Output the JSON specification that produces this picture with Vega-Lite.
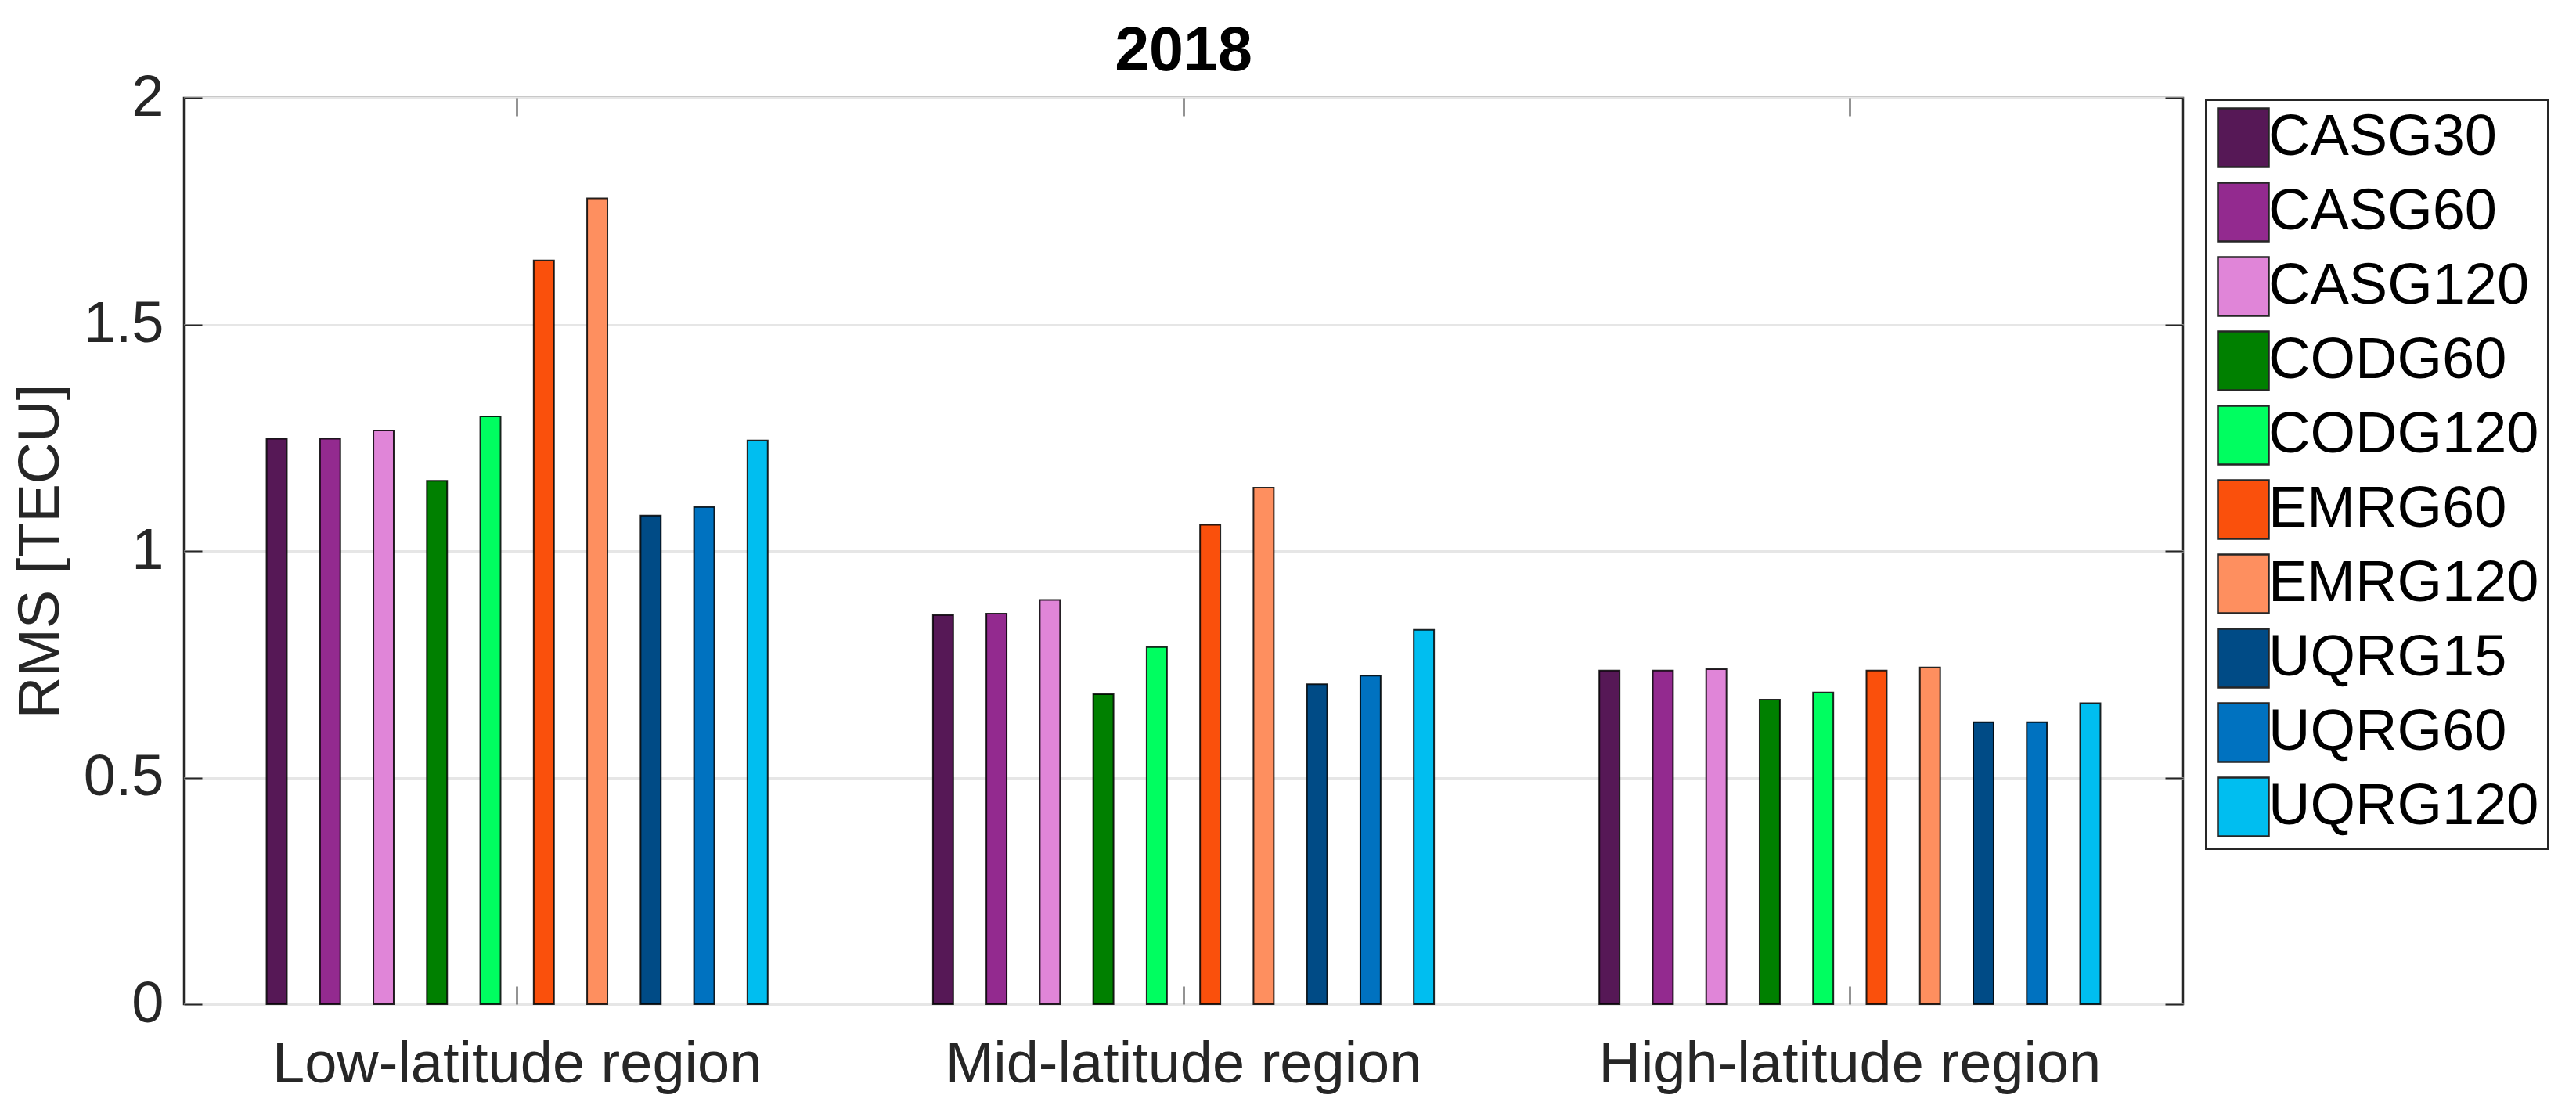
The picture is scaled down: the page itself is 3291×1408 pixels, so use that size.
{
  "$schema": "https://vega.github.io/schema/vega-lite/v6.json",
  "width": 2554,
  "height": 1158,
  "autosize": "none",
  "padding": {"left": 235, "top": 125, "right": 502, "bottom": 125},
  "background": "white",
  "config": {
    "font": "Liberation Sans",
    "view": {"stroke": "#262626", "strokeWidth": 2.5}
  },
  "data": {
    "values": [
      {"region": "Low-latitude region", "model": "CASG30", "rms": 1.248},
      {"region": "Low-latitude region", "model": "CASG60", "rms": 1.248},
      {"region": "Low-latitude region", "model": "CASG120", "rms": 1.266},
      {"region": "Low-latitude region", "model": "CODG60", "rms": 1.155},
      {"region": "Low-latitude region", "model": "CODG120", "rms": 1.297},
      {"region": "Low-latitude region", "model": "EMRG60", "rms": 1.641},
      {"region": "Low-latitude region", "model": "EMRG120", "rms": 1.778},
      {"region": "Low-latitude region", "model": "UQRG15", "rms": 1.078},
      {"region": "Low-latitude region", "model": "UQRG60", "rms": 1.097},
      {"region": "Low-latitude region", "model": "UQRG120", "rms": 1.244},
      {"region": "Mid-latitude region", "model": "CASG30", "rms": 0.859},
      {"region": "Mid-latitude region", "model": "CASG60", "rms": 0.862},
      {"region": "Mid-latitude region", "model": "CASG120", "rms": 0.892},
      {"region": "Mid-latitude region", "model": "CODG60", "rms": 0.684},
      {"region": "Mid-latitude region", "model": "CODG120", "rms": 0.788},
      {"region": "Mid-latitude region", "model": "EMRG60", "rms": 1.058},
      {"region": "Mid-latitude region", "model": "EMRG120", "rms": 1.140},
      {"region": "Mid-latitude region", "model": "UQRG15", "rms": 0.706},
      {"region": "Mid-latitude region", "model": "UQRG60", "rms": 0.725},
      {"region": "Mid-latitude region", "model": "UQRG120", "rms": 0.826},
      {"region": "High-latitude region", "model": "CASG30", "rms": 0.736},
      {"region": "High-latitude region", "model": "CASG60", "rms": 0.736},
      {"region": "High-latitude region", "model": "CASG120", "rms": 0.739},
      {"region": "High-latitude region", "model": "CODG60", "rms": 0.672},
      {"region": "High-latitude region", "model": "CODG120", "rms": 0.688},
      {"region": "High-latitude region", "model": "EMRG60", "rms": 0.736},
      {"region": "High-latitude region", "model": "EMRG120", "rms": 0.743},
      {"region": "High-latitude region", "model": "UQRG15", "rms": 0.622},
      {"region": "High-latitude region", "model": "UQRG60", "rms": 0.622},
      {"region": "High-latitude region", "model": "UQRG120", "rms": 0.664}
    ]
  },
  "resolve": {"axis": {"x": "independent", "y": "independent"}},
  "layer": [
    {
      "mark": {"type": "bar", "stroke": "#000000", "strokeWidth": 2, "strokeOpacity": 0.85},
      "encoding": {
        "x": {
          "field": "region",
          "type": "nominal",
          "sort": ["Low-latitude region", "Mid-latitude region", "High-latitude region"],
          "scale": {"paddingInner": 0.0876, "paddingOuter": 0.0438},
          "axis": {
            "orient": "bottom",
            "title": null,
            "labelAngle": 0,
            "labelFontSize": 74,
            "labelColor": "#262626",
            "labelFont": "Liberation Sans",
            "labelLimit": 0,
            "ticks": true,
            "tickSize": -23,
            "tickWidth": 2,
            "tickColor": "#262626",
            "labelPadding": 64,
            "domain": false,
            "grid": false
          }
        },
        "xOffset": {
          "field": "model",
          "type": "nominal",
          "sort": ["CASG30", "CASG60", "CASG120", "CODG60", "CODG120", "EMRG60", "EMRG120", "UQRG15", "UQRG60", "UQRG120"],
          "scale": {"paddingInner": 0.62, "paddingOuter": 1.0}
        },
        "y": {
          "field": "rms",
          "type": "quantitative",
          "scale": {"domain": [0, 2], "nice": false},
          "axis": {
            "orient": "left",
            "title": "RMS [TECU]",
            "titleFontSize": 74,
            "titleFontWeight": "normal",
            "titleColor": "#262626",
            "titleFont": "Liberation Sans",
            "titlePadding": 16,
            "values": [0, 0.5, 1, 1.5, 2],
            "format": "~g",
            "labelFontSize": 74,
            "labelColor": "#262626",
            "labelFont": "Liberation Sans",
            "ticks": true,
            "tickSize": -23,
            "tickWidth": 2,
            "tickColor": "#262626",
            "labelPadding": 49,
            "domain": false,
            "grid": true,
            "gridColor": "#e6e6e6",
            "gridWidth": 3
          }
        },
        "color": {
          "field": "model",
          "type": "nominal",
          "sort": ["CASG30", "CASG60", "CASG120", "CODG60", "CODG120", "EMRG60", "EMRG120", "UQRG15", "UQRG60", "UQRG120"],
          "scale": {
            "domain": ["CASG30", "CASG60", "CASG120", "CODG60", "CODG120", "EMRG60", "EMRG120", "UQRG15", "UQRG60", "UQRG120"],
            "range": ["#561856", "#932a8f", "#e085d8", "#008000", "#00fe60", "#fa500c", "#fe8f5f", "#004b86", "#0072c0", "#00bef0"]
          },
          "legend": {
            "title": null,
            "orient": "none",
            "legendX": 2583,
            "legendY": 3,
            "direction": "vertical",
            "padding": 11,
            "strokeColor": "#262626",
            "fillColor": "#ffffff",
            "symbolType": "M-1,-1.154H1V1.154H-1Z",
            "symbolSize": 4225,
            "symbolStrokeColor": "#262626",
            "symbolStrokeWidth": 2.5,
            "symbolOpacity": 1,
            "labelFontSize": 74,
            "labelFont": "Liberation Sans",
            "labelColor": "#000000",
            "labelOffset": -5,
            "labelBaseline": "middle",
            "rowPadding": 9,
            "labelLimit": 0,
            "encode": {"legend": {"update": {"strokeWidth": {"value": 2}}}}
          }
        }
      }
    },
    {
      "mark": {"type": "bar", "opacity": 0},
      "encoding": {
        "x": {
          "field": "region",
          "type": "nominal",
          "sort": ["Low-latitude region", "Mid-latitude region", "High-latitude region"],
          "axis": {
            "orient": "top",
            "title": null,
            "labels": false,
            "ticks": true,
            "tickSize": -23,
            "tickWidth": 2,
            "tickColor": "#262626",
            "domain": false,
            "grid": false
          }
        },
        "y": {
          "field": "rms",
          "type": "quantitative",
          "axis": {
            "orient": "right",
            "title": null,
            "labels": false,
            "values": [0, 0.5, 1, 1.5, 2],
            "ticks": true,
            "tickSize": -23,
            "tickWidth": 2,
            "tickColor": "#262626",
            "domain": false,
            "grid": false
          }
        }
      }
    },
    {
      "data": {"values": [{"region": "Mid-latitude region", "rms": 2, "label": "2018"}]},
      "mark": {
        "type": "text",
        "fontSize": 79,
        "fontWeight": "bold",
        "font": "Liberation Sans",
        "color": "#000000",
        "align": "center",
        "baseline": "alphabetic",
        "dy": -35
      },
      "encoding": {
        "x": {
          "field": "region",
          "type": "nominal",
          "sort": ["Low-latitude region", "Mid-latitude region", "High-latitude region"],
          "axis": null
        },
        "y": {"field": "rms", "type": "quantitative", "axis": null},
        "text": {"field": "label", "type": "nominal"}
      }
    }
  ]
}
